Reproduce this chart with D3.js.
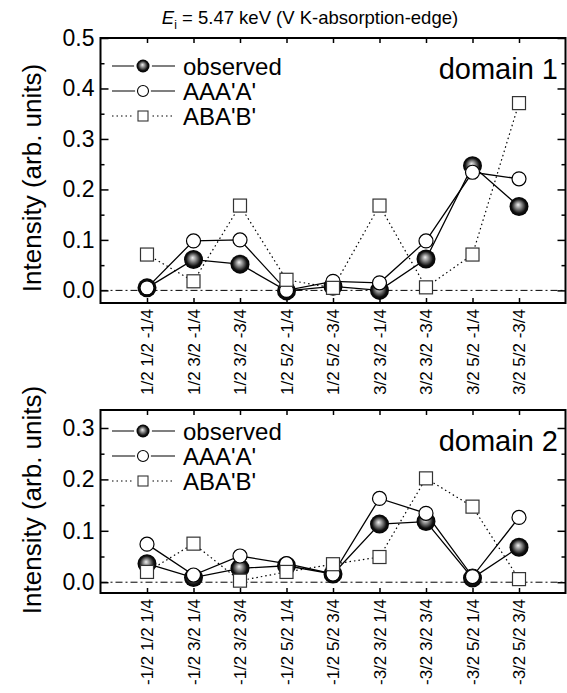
<!DOCTYPE html>
<html>
<head>
<meta charset="utf-8">
<script src="https://cdn.jsdelivr.net/npm/d3@7"></script>
<style>
  body { margin: 0; background: #fff; }
  svg { font-family: "Liberation Sans", Arial, sans-serif; }
</style>
</head>
<body>
<div id="chart"></div>
<script>
// reflections, domain 1
const labels1 = ["1/2 1/2 -1/4", "1/2 3/2 -1/4", "1/2 3/2 -3/4", "1/2 5/2 -1/4", "1/2 5/2 -3/4",
  "3/2 3/2 -1/4", "3/2 3/2 -3/4", "3/2 5/2 -1/4", "3/2 5/2 -3/4"];
const observed1 = [0.005, 0.061, 0.052, -0.001, 0.008, 0.0, 0.062, 0.247, 0.166];
const aaa1 = [0.005, 0.098, 0.100, 0.0, 0.018, 0.015, 0.098, 0.234, 0.221];
const aba1 = [0.071, 0.018, 0.168, 0.021, 0.005, 0.168, 0.006, 0.071, 0.371];

// reflections, domain 2
const labels2 = ["-1/2 1/2 1/4", "-1/2 3/2 1/4", "-1/2 3/2 3/4", "-1/2 5/2 1/4", "-1/2 5/2 3/4",
  "-3/2 3/2 1/4", "-3/2 3/2 3/4", "-3/2 5/2 1/4", "-3/2 5/2 3/4"];
const observed2 = [0.036, 0.009, 0.027, 0.032, 0.016, 0.113, 0.118, 0.008, 0.068];
const aaa2 = [0.074, 0.014, 0.051, 0.036, 0.016, 0.163, 0.134, 0.011, 0.126];
const aba2 = [0.020, 0.075, 0.003, 0.020, 0.035, 0.049, 0.202, 0.147, 0.006];

const legendNames = ["observed", "AAA'A'", "ABA'B'"];

const W = 567, H = 693;
const svg = d3.select('#chart').append('svg').attr('width', W).attr('height', H);

// shaded sphere for the observed points
const grad = svg.append('defs').append('radialGradient')
  .attr('id', 'ball').attr('cx', '50%').attr('cy', '50%').attr('r', '50%')
  .attr('fx', '45%').attr('fy', '40%');
grad.append('stop').attr('offset', '0%').attr('stop-color', '#f0f0f0');
grad.append('stop').attr('offset', '30%').attr('stop-color', '#999');
grad.append('stop').attr('offset', '75%').attr('stop-color', '#111');
grad.append('stop').attr('offset', '100%').attr('stop-color', '#000');

// title
const title = svg.append('text').attr('x', 310).attr('y', 24)
  .attr('text-anchor', 'middle').attr('font-size', 18.5);
title.append('tspan').attr('font-style', 'italic').text('E');
title.append('tspan').attr('font-size', 12).attr('dy', 5).text('i');
title.append('tspan').attr('dy', -5).text(' = 5.47 keV (V K-absorption-edge)');

function drawPanel(p) {
  const x = d3.scaleLinear().domain([0, 10]).range([100.5, 565.5]);
  const y = d3.scaleLinear().domain(p.ydom).range([p.bottom, p.top]);
  const g = svg.append('g');
  const idx = d3.range(1, 10);

  // zero line
  g.append('line').attr('x1', x(0)).attr('x2', x(10)).attr('y1', y(0)).attr('y2', y(0))
    .attr('stroke', '#000').attr('stroke-width', 1).attr('stroke-dasharray', '7,3,2,3');

  // axes, all ticks inward
  const yMajor = d3.range(0, p.ymax + 0.001, 0.1);
  const yMinor = d3.range(0.05, p.ymax, 0.1);
  g.append('g').attr('transform', `translate(${x(0)},0)`)
    .call(d3.axisLeft(y).tickValues(yMajor).tickFormat(d3.format('.1f')).tickSize(-8).tickSizeOuter(0).tickPadding(6));
  g.append('g').attr('transform', `translate(${x(0)},0)`)
    .call(d3.axisLeft(y).tickValues(yMinor).tickFormat('').tickSize(-4).tickSizeOuter(0));
  g.append('g').attr('transform', `translate(${x(10)},0)`)
    .call(d3.axisRight(y).tickValues(yMajor).tickFormat('').tickSize(-8).tickSizeOuter(0));
  g.append('g').attr('transform', `translate(${x(10)},0)`)
    .call(d3.axisRight(y).tickValues(yMinor).tickFormat('').tickSize(-4).tickSizeOuter(0));
  g.append('g').attr('transform', `translate(0,${p.top})`)
    .call(d3.axisTop(x).tickValues(idx).tickFormat('').tickSize(-5).tickSizeOuter(0));
  g.append('g').attr('transform', `translate(0,${p.bottom})`)
    .call(d3.axisBottom(x).tickValues(idx).tickFormat('').tickSize(-5).tickSizeOuter(0));
  g.selectAll('.tick line').attr('stroke', '#000').attr('stroke-width', 1.5);
  g.selectAll('.domain').remove();
  g.selectAll('.tick text').attr('font-size', 23).attr('fill', '#000')
    .attr('font-family', '"Liberation Sans", Arial, sans-serif');

  g.append('rect').attr('x', x(0)).attr('y', p.top)
    .attr('width', x(10) - x(0)).attr('height', p.bottom - p.top)
    .attr('fill', 'none').attr('stroke', '#000').attr('stroke-width', 2);

  // rotated reflection labels
  g.selectAll('.cat').data(p.labels).enter().append('text')
    .attr('transform', (d, i) => `translate(${x(i + 1) + 6},${p.bottom + 6}) rotate(-90)`)
    .attr('text-anchor', 'end').attr('font-size', 17).text(d => d);

  // y title
  g.append('text')
    .attr('transform', `translate(41,${p.titleY}) rotate(-90)`)
    .attr('text-anchor', 'middle').attr('font-size', 26).text('Intensity (arb. units)');

  // lines
  const line = d3.line().x((d, i) => x(i + 1)).y(d => y(d));
  g.append('path').datum(p.obs).attr('d', line).attr('fill', 'none').attr('stroke', '#000').attr('stroke-width', 1.3);
  g.append('path').datum(p.aaa).attr('d', line).attr('fill', 'none').attr('stroke', '#000').attr('stroke-width', 1.3);
  g.append('path').datum(p.aba).attr('d', line).attr('fill', 'none').attr('stroke', '#000')
    .attr('stroke-width', 1.2).attr('stroke-dasharray', '1.5,3');

  // markers
  g.selectAll('.obs').data(p.obs).enter().append('circle')
    .attr('cx', (d, i) => x(i + 1)).attr('cy', d => y(d)).attr('r', 9.5).attr('fill', 'url(#ball)');
  g.selectAll('.aaa').data(p.aaa).enter().append('circle')
    .attr('cx', (d, i) => x(i + 1)).attr('cy', d => y(d)).attr('r', 7)
    .attr('fill', '#fff').attr('stroke', '#000').attr('stroke-width', 1.2);
  g.selectAll('.aba').data(p.aba).enter().append('rect')
    .attr('x', (d, i) => x(i + 1) - 6.5).attr('y', d => y(d) - 6.5).attr('width', 13).attr('height', 13)
    .attr('fill', '#fff').attr('stroke', '#333').attr('stroke-width', 1.2);

  // legend
  const lg = g.append('g').attr('transform', `translate(0,${p.legendY})`);
  legendNames.forEach((name, k) => {
    const ly = k * 25;
    const l = lg.append('line').attr('x1', 112).attr('x2', 175).attr('y1', ly).attr('y2', ly)
      .attr('stroke', '#000').attr('stroke-width', 1.2);
    if (k === 2) l.attr('stroke-dasharray', '1.5,3');
    if (k === 0) {
      lg.append('circle').attr('cx', 143).attr('cy', ly).attr('r', 9).attr('fill', '#fff');
      lg.append('circle').attr('cx', 143).attr('cy', ly).attr('r', 6.5).attr('fill', 'url(#ball)');
    } else if (k === 1) {
      lg.append('circle').attr('cx', 143).attr('cy', ly).attr('r', 8).attr('fill', '#fff');
      lg.append('circle').attr('cx', 143).attr('cy', ly).attr('r', 5.5)
        .attr('fill', '#fff').attr('stroke', '#000').attr('stroke-width', 1.1);
    } else {
      lg.append('rect').attr('x', 134).attr('y', ly - 9).attr('width', 18).attr('height', 18).attr('fill', '#fff');
      lg.append('rect').attr('x', 138).attr('y', ly - 5).attr('width', 10).attr('height', 10)
        .attr('fill', '#fff').attr('stroke', '#333').attr('stroke-width', 1.1);
    }
    lg.append('text').attr('x', 183).attr('y', ly + 8.5).attr('font-size', 24).text(name);
  });

  g.append('text').attr('x', 558).attr('y', p.top + 41).attr('text-anchor', 'end')
    .attr('font-size', 29).text(p.domain);
}

drawPanel({ top: 38, bottom: 303, ydom: [-0.025, 0.5], ymax: 0.5, labels: labels1,
  obs: observed1, aaa: aaa1, aba: aba1, legendY: 66, domain: 'domain 1', titleY: 178 });
drawPanel({ top: 410, bottom: 593, ydom: [-0.021, 0.335], ymax: 0.3, labels: labels2,
  obs: observed2, aaa: aaa2, aba: aba2, legendY: 431, domain: 'domain 2', titleY: 500 });
</script>
</body>
</html>
